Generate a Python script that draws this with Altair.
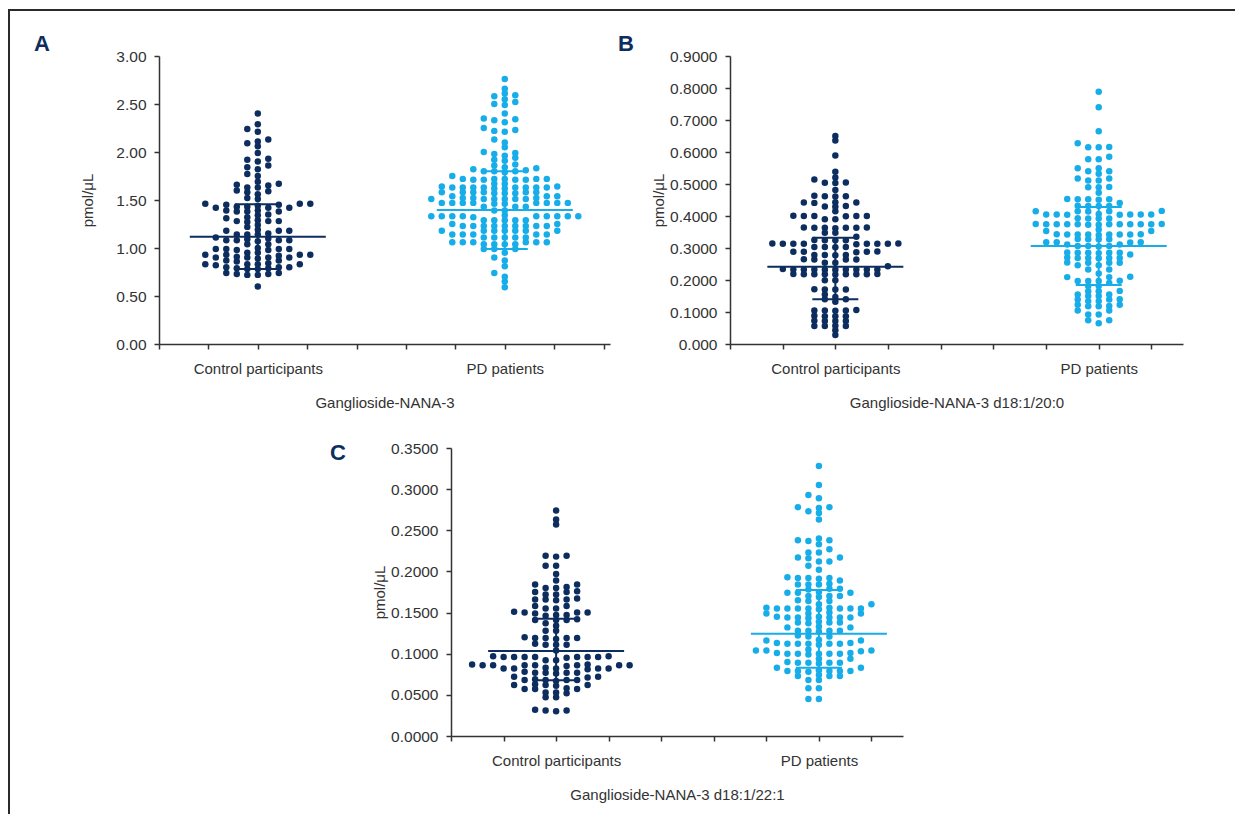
import altair as alt
import pandas as pd

NAVY = "#0c2d5e"
SKY = "#17ade8"
INK = "#333333"
FONT = "Liberation Sans"

GROUPS = ["Control participants", "PD patients"]
CENTERS = [2, 7]

# ---------------- Panel A : Ganglioside-NANA-3 ----------------
ctrl_A = [2.40, 2.29, 2.24, 2.21, 2.13, 2.11, 2.09, 2.06, 1.99, 1.93, 1.92, 1.90, 1.86,
          1.84, 1.82, 1.77, 1.75, 1.69, 1.67, 1.66, 1.65, 1.63, 1.63, 1.60, 1.59, 1.58,
          1.56, 1.52, 1.51,
          1.46, 1.46, 1.45, 1.46, 1.45,
          1.42, 1.43, 1.42, 1.44, 1.42, 1.43,
          1.38, 1.39, 1.38, 1.38, 1.39,
          1.35, 1.34, 1.32, 1.31,
          1.28, 1.28, 1.29, 1.28, 1.27,
          1.24, 1.22,
          1.18, 1.19, 1.18, 1.18,
          1.14, 1.14, 1.15, 1.14,
          1.11, 1.10,
          1.08, 1.08, 1.07, 1.08, 1.09, 1.08,
          1.04, 1.04,
          0.99, 0.99, 0.98, 0.99, 1.00, 0.99, 0.98,
          0.95, 0.95,
          0.93, 0.93, 0.92, 0.93, 0.93,
          0.90, 0.90, 0.89, 0.90, 0.90, 0.91,
          0.87, 0.86, 0.87,
          0.83, 0.83, 0.84, 0.83, 0.82, 0.83,
          0.80, 0.79, 0.80, 0.80, 0.79,
          0.78, 0.78,
          0.74, 0.73, 0.74, 0.73,
          0.72, 0.72,
          0.60]
pd_A = [2.76, 2.66, 2.61, 2.59, 2.58, 2.55, 2.52, 2.50, 2.49, 2.40, 2.35, 2.34, 2.33,
        2.31, 2.25, 2.23, 2.22, 2.21, 2.13, 2.10, 2.05, 2.00, 1.99, 1.98, 1.96, 1.94,
        1.92, 1.91, 1.87, 1.86, 1.84, 1.83, 1.82,
        1.80, 1.80, 1.81, 1.79, 1.80, 1.75,
        1.72, 1.71, 1.72, 1.72, 1.71, 1.72, 1.71, 1.72, 1.71,
        1.67, 1.67,
        1.63, 1.63, 1.64, 1.63, 1.63, 1.62, 1.63, 1.63, 1.64, 1.63, 1.62, 1.63,
        1.58, 1.57, 1.58, 1.58, 1.57, 1.58, 1.58, 1.57, 1.58,
        1.54, 1.54, 1.54,
        1.51, 1.52, 1.51, 1.51, 1.52, 1.51, 1.51, 1.51, 1.52,
        1.47, 1.47, 1.46, 1.47, 1.47, 1.47, 1.46, 1.47, 1.47, 1.47,
        1.43, 1.43, 1.43,
        1.39, 1.39,
        1.33, 1.33, 1.34, 1.33, 1.33, 1.33, 1.32, 1.33, 1.33, 1.33, 1.33,
        1.29, 1.29, 1.29, 1.29, 1.29,
        1.25, 1.25,
        1.23, 1.23, 1.23, 1.23, 1.23, 1.23, 1.23, 1.23, 1.23,
        1.18, 1.18, 1.18, 1.18, 1.18, 1.18, 1.18,
        1.14, 1.14, 1.14, 1.14, 1.14,
        1.11, 1.11, 1.11, 1.11, 1.11,
        1.06, 1.06, 1.06, 1.06, 1.06, 1.06,
        1.04, 1.04, 1.04, 1.04,
        0.99, 0.99, 0.99,
        0.95, 0.90, 0.87, 0.81, 0.74, 0.70, 0.65, 0.59]
median_A = [1.118, 1.396]
q1_A = [0.780, 0.990]
q3_A = [1.455, 1.800]
yticks_A = [0.0, 0.5, 1.0, 1.5, 2.0, 2.5, 3.0]
xticks_A = [0, 1, 2, 3, 4, 5, 6, 7, 8, 9]

# ---------------- Panel B : Ganglioside-NANA-3 d18:1/20:0 ----------------
ctrl_B = [0.650, 0.636, 0.589, 0.538, 0.520, 0.514, 0.504, 0.505, 0.503, 0.481,
          0.462, 0.462, 0.461, 0.463,
          0.442, 0.442, 0.441, 0.443,
          0.430, 0.431, 0.429, 0.415,
          0.400, 0.400, 0.401, 0.399, 0.400, 0.400,
          0.390, 0.390,
          0.363, 0.363, 0.364, 0.362, 0.363, 0.363, 0.364,
          0.348, 0.348, 0.335,
          0.324, 0.324, 0.325, 0.324,
          0.313, 0.313, 0.314, 0.313, 0.312, 0.313, 0.313, 0.314, 0.313,
          0.303, 0.303, 0.302, 0.303,
          0.288, 0.288, 0.289, 0.288, 0.287,
          0.278, 0.278, 0.277, 0.278,
          0.264, 0.264, 0.265, 0.264,
          0.254, 0.254, 0.243,
          0.233, 0.233, 0.232, 0.233, 0.233, 0.234, 0.233, 0.233, 0.232, 0.233,
          0.218, 0.218, 0.219, 0.218, 0.217, 0.218, 0.218, 0.219, 0.218,
          0.199, 0.199,
          0.170, 0.170, 0.171, 0.170,
          0.155, 0.147, 0.140, 0.140, 0.132,
          0.105, 0.105, 0.104, 0.105, 0.106,
          0.087, 0.087, 0.088, 0.087,
          0.072, 0.072, 0.073, 0.072,
          0.056, 0.056, 0.057, 0.056,
          0.043, 0.028]
pd_B = [0.788, 0.740, 0.665, 0.627, 0.615, 0.615, 0.616, 0.585, 0.577, 0.577,
        0.549, 0.549, 0.540, 0.540, 0.532, 0.517, 0.517, 0.511, 0.511,
        0.490, 0.490, 0.491, 0.473,
        0.452, 0.452, 0.453, 0.452, 0.451, 0.441,
        0.431, 0.431, 0.432, 0.431,
        0.415, 0.415, 0.416, 0.415, 0.414,
        0.405, 0.405, 0.404, 0.405, 0.406, 0.405, 0.405, 0.404,
        0.392, 0.392, 0.393, 0.392,
        0.374, 0.374, 0.375, 0.374, 0.373, 0.374, 0.374, 0.375, 0.374, 0.374, 0.373, 0.374, 0.374,
        0.358, 0.353, 0.353,
        0.342, 0.342, 0.343, 0.342, 0.341, 0.342, 0.342, 0.343, 0.342,
        0.327, 0.327, 0.328, 0.327,
        0.318, 0.318, 0.317, 0.318,
        0.311, 0.311,
        0.306, 0.306, 0.305, 0.306,
        0.285, 0.285, 0.286, 0.285, 0.284, 0.285, 0.280,
        0.269, 0.269, 0.270, 0.269, 0.268, 0.269,
        0.254, 0.254, 0.255, 0.254,
        0.246, 0.246, 0.233, 0.233, 0.220,
        0.209, 0.209, 0.210,
        0.197, 0.197, 0.198, 0.197, 0.191,
        0.181, 0.181, 0.165, 0.165, 0.166,
        0.155, 0.155, 0.150, 0.150,
        0.139, 0.139, 0.140, 0.134, 0.134,
        0.123, 0.123, 0.118, 0.118, 0.119,
        0.105, 0.105, 0.092, 0.092, 0.074, 0.074, 0.065]
median_B = [0.2416, 0.306]
q1_B = [0.1396, 0.184]
q3_B = [0.332, 0.428]
yticks_B = [0.0, 0.1, 0.2, 0.3, 0.4, 0.5, 0.6, 0.7, 0.8, 0.9]
xticks_B = [0, 1, 2, 3, 4, 5, 6, 7, 8]

# ---------------- Panel C : Ganglioside-NANA-3 d18:1/22:1 ----------------
ctrl_C = [0.274, 0.263, 0.257, 0.219, 0.219, 0.218, 0.207, 0.207, 0.197, 0.189,
          0.184, 0.184, 0.180, 0.180, 0.181, 0.175, 0.175, 0.176, 0.172, 0.172,
          0.166, 0.166, 0.167, 0.166, 0.165,
          0.158, 0.158, 0.155, 0.155,
          0.150, 0.150, 0.151, 0.150, 0.149,
          0.147, 0.147, 0.146,
          0.141, 0.141, 0.142, 0.141,
          0.137, 0.134, 0.128, 0.128,
          0.119, 0.119, 0.120, 0.119, 0.118, 0.119,
          0.111, 0.111, 0.112, 0.111,
          0.104,
          0.096, 0.096, 0.097, 0.096, 0.095, 0.096, 0.096, 0.097, 0.096, 0.096,
          0.092, 0.092,
          0.086, 0.086, 0.087, 0.086, 0.085, 0.086, 0.086, 0.087, 0.086, 0.086,
          0.082, 0.082, 0.081, 0.082, 0.082, 0.083, 0.082,
          0.077, 0.077, 0.078, 0.077, 0.076, 0.077,
          0.072, 0.072, 0.071,
          0.068, 0.068, 0.069, 0.068, 0.067, 0.068,
          0.062, 0.062, 0.063, 0.062, 0.061,
          0.057, 0.057, 0.058, 0.057,
          0.053, 0.053, 0.052,
          0.047, 0.047,
          0.031, 0.031, 0.032, 0.030]
pd_C = [0.328, 0.305, 0.293, 0.289, 0.278, 0.278, 0.277, 0.273, 0.271, 0.263,
        0.240, 0.238, 0.238, 0.237, 0.233, 0.227, 0.223, 0.223,
        0.217, 0.217, 0.216, 0.212, 0.212, 0.207, 0.202,
        0.192, 0.192, 0.193, 0.192, 0.191, 0.189,
        0.184, 0.184, 0.185, 0.184,
        0.179, 0.179, 0.178,
        0.174, 0.174, 0.175, 0.174,
        0.170, 0.170, 0.169, 0.170,
        0.164, 0.164, 0.165, 0.160, 0.160,
        0.155, 0.155, 0.156, 0.155, 0.154, 0.155, 0.155, 0.156, 0.155, 0.155,
        0.149, 0.149, 0.150, 0.149,
        0.144, 0.144, 0.145, 0.144, 0.143, 0.144, 0.144, 0.145,
        0.138, 0.138, 0.139, 0.138, 0.137,
        0.132, 0.132, 0.133,
        0.128, 0.128, 0.127, 0.128, 0.128,
        0.121, 0.121, 0.122, 0.116, 0.116, 0.117,
        0.112, 0.112, 0.113, 0.112, 0.111, 0.112, 0.112, 0.113,
        0.104, 0.104, 0.105, 0.104, 0.103,
        0.100, 0.100, 0.101, 0.100, 0.099, 0.100, 0.100, 0.101,
        0.094, 0.094,
        0.089, 0.089, 0.090, 0.089, 0.088, 0.089,
        0.083, 0.083,
        0.079, 0.079, 0.080, 0.079, 0.078, 0.079, 0.079,
        0.073, 0.073, 0.074, 0.073,
        0.068, 0.068, 0.058, 0.058, 0.045, 0.045]
median_C = [0.1033, 0.1244]
q1_C = [0.0677, 0.0830]
q3_C = [0.1426, 0.1774]
yticks_C = [0.0, 0.05, 0.10, 0.15, 0.20, 0.25, 0.30, 0.35]
xticks_C = [0, 1, 2, 3, 4, 5, 6, 7, 8]


def swarm(values, y_ppu, x_ppu, step_px=10.5, min_dy=4.2):
    """Prism-like column scatter: each point (lowest first) takes the column
    nearest the centre whose points are all at least min_dy pixels away.
    Returns x offsets in data units; y stays at the true value."""
    order = sorted(range(len(values)), key=lambda i: values[i])
    columns = {}
    offsets = [0.0] * len(values)
    for i in order:
        y = values[i] * y_ppu
        n = 0
        while True:
            c = 0 if n == 0 else ((n + 1) // 2) * (-1 if n % 2 else 1)
            if all(abs(y - other) >= min_dy for other in columns.get(c, [])):
                break
            n += 1
        columns.setdefault(c, []).append(y)
        offsets[i] = c * step_px / x_ppu
    return offsets


def panel(key, ctrl, pdv, med, q1, q3, ymax, yticks, ylab_expr, xmax, xticks,
          plot_w, x_range, xtitle, letter, letter_xy, y_offset=0, frame=False):
    H = 288
    span = x_range[1] - x_range[0]
    x_ppu = span / xmax
    y_ppu = H / ymax
    xf, yf = "x" + key, "v" + key

    rows = []
    for g, c, vals in zip(GROUPS, CENTERS, [ctrl, pdv]):
        for v, o in zip(vals, swarm(vals, y_ppu, x_ppu)):
            rows.append({"grp": g, xf: c + o, yf: v})
    pts = pd.DataFrame(rows)

    med_half = 68 / x_ppu
    cap_half = 23 / x_ppu
    hl, vl = [], []
    for g, c, m, a, b in zip(GROUPS, CENTERS, med, q1, q3):
        hl.append({"grp": g, xf: c - med_half, xf + "2": c + med_half, yf: m})
        hl.append({"grp": g, xf: c - cap_half, xf + "2": c + cap_half, yf: a})
        hl.append({"grp": g, xf: c - cap_half, xf + "2": c + cap_half, yf: b})
        vl.append({"grp": g, xf: c, yf: a, yf + "2": b})
    hl = pd.DataFrame(hl)
    vl = pd.DataFrame(vl)

    xs = alt.Scale(domain=[0, xmax], range=list(x_range), nice=False, zero=False)
    ys = alt.Scale(domain=[0, ymax], nice=False, zero=True)
    x_axis = alt.Axis(
        values=xticks,
        labelExpr="datum.value == 2 ? 'Control participants' : (datum.value == 7 ? 'PD patients' : '')",
        title=xtitle, grid=False, domainColor=INK, domainWidth=1.5, tickColor=INK,
        tickWidth=1.5, tickSize=5, labelFont=FONT, labelFontSize=15, labelColor=INK,
        labelPadding=12, labelOverlap=False, labelFlush=False, labelBound=False,
        titleFont=FONT, titleFontSize=15, titleFontWeight="normal", titleColor=INK,
        titleX=x_range[0] + span / 2, titleY=58, titleBaseline="middle", titleAlign="center")
    y_axis = alt.Axis(
        values=yticks, labelExpr=ylab_expr, title="pmol/μL", grid=False,
        domainColor=INK, domainWidth=1.5, tickColor=INK, tickWidth=1.5, tickSize=5,
        labelFont=FONT, labelFontSize=15.5, labelColor=INK, labelPadding=8,
        labelOverlap=False, labelFlush=False,
        titleFont=FONT, titleFontSize=15, titleFontWeight="normal", titleColor=INK,
        titleX=-72, titleY=H / 2, titleBaseline="middle", titleAlign="center",
        offset=y_offset)
    color = alt.Color("grp:N", scale=alt.Scale(domain=GROUPS, range=[NAVY, SKY]), legend=None)

    points = alt.Chart(pts).mark_circle(size=42, opacity=1).encode(
        x=alt.X(f"{xf}:Q", scale=xs, axis=x_axis),
        y=alt.Y(f"{yf}:Q", scale=ys, axis=y_axis),
        color=color)
    hlines = alt.Chart(hl).mark_rule(strokeWidth=2).encode(
        x=alt.X(f"{xf}:Q", scale=xs, axis=x_axis), x2=f"{xf}2:Q",
        y=alt.Y(f"{yf}:Q", scale=ys, axis=y_axis), color=color)
    vlines = alt.Chart(vl).mark_rule(strokeWidth=2).encode(
        x=alt.X(f"{xf}:Q", scale=xs, axis=x_axis),
        y=alt.Y(f"{yf}:Q", scale=ys, axis=y_axis), y2=f"{yf}2:Q", color=color)
    lab = alt.Chart(pd.DataFrame({"t": [letter]})).mark_text(
        font="Liberation Sans", fontSize=22, fontWeight="bold", color=NAVY,
        align="center", baseline="middle").encode(
        x=alt.value(letter_xy[0]), y=alt.value(letter_xy[1]), text="t:N")
    layers = [points, hlines, vlines, lab]
    if frame:
        one = pd.DataFrame({"f": [0]})
        top = alt.Chart(one).mark_rule(color="#2a2a2a", strokeWidth=2).encode(
            x=alt.value(-150), x2=alt.value(1076), y=alt.value(-46))
        left = alt.Chart(one).mark_rule(color="#2a2a2a", strokeWidth=2).encode(
            x=alt.value(-150), y=alt.value(-47), y2=alt.value(758))
        layers += [top, left]
    return alt.layer(*layers).properties(width=plot_w, height=H)


A = panel("A", ctrl_A, pd_A, median_A, q1_A, q3_A, 3.0, yticks_A,
          "format(datum.value, '.2f')", 9.13, xticks_A, 451, (0, 451),
          "Ganglioside-NANA-3", "A", (-117, -12), frame=True)
B = panel("B", ctrl_B, pd_B, median_B, q1_B, q3_B, 0.9, yticks_B,
          "datum.value == 0 ? '0.000' : format(datum.value, '.4f')", 8.6, xticks_B,
          453, (0, 453), "Ganglioside-NANA-3 d18:1/20:0", "B", (-104, -12))
# C sits in the first column (width 451 like A) but its scale range is shifted right
C = panel("C", ctrl_C, pd_C, median_C, q1_C, q3_C, 0.35, yticks_C,
          "format(datum.value, '.4f')", 8.6, xticks_C, 451, (292, 744),
          "Ganglioside-NANA-3 d18:1/22:1", "C", (179, 5), y_offset=-292)

chart = alt.concat(
    A, B, C, columns=2, spacing={"row": 104, "column": 120},
    align="none", bounds="flush"
).resolve_scale(x="independent", y="independent").properties(
    padding=0
).configure_view(stroke=None)

chart.save("out.html", embed_options={"renderer": "svg", "actions": False})
